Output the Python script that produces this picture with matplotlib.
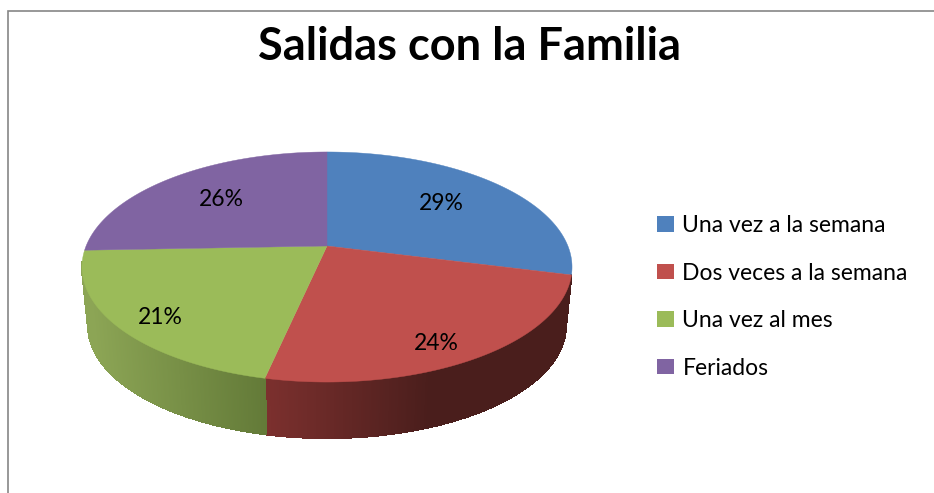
import numpy as np
import matplotlib
matplotlib.use("Agg")
import matplotlib.pyplot as plt
from matplotlib.patches import Polygon, Patch
from matplotlib.collections import PolyCollection, LineCollection

title = "Salidas con la Familia"
categories = ["Una vez a la semana", "Dos veces a la semana", "Una vez al mes", "Feriados"]
values = [29.0, 24.4, 21.0, 25.6]

colors = ["#4F81BD", "#C0504D", "#9BBB59", "#8064A2"]
side_left = ["#4F81BD", "#7C302E", "#8CA555", "#8064A2"]
side_right = ["#3A6496", "#4A1E1C", "#637A38", "#5E4A78"]
grad_span = [(560, 575), (265, 430), (90, 265), (83, 90)]

plt.rcParams["font.family"] = ["Lato", "DejaVu Sans"]
fig = plt.figure(figsize=(9.34, 4.93), dpi=100)
ax = fig.add_axes([0, 0, 1, 1])
ax.set_xlim(0, 934)
ax.set_ylim(493, 0)
ax.axis("off")

# perspective projection of the unit disc
PX, PY = 327.0, 246.0
SX, SY, C = 240.9, 111.2, 0.1826
DEPTH, SHRINK = 59.4, 0.975
VISIBLE = (np.radians(104.4), np.radians(262))


def rim(theta):
    X, Y = np.sin(theta), np.cos(theta)
    w = 1 + C * Y
    return SX * X / w, SY * Y / w


def top_xy(theta):
    x, y = rim(theta)
    return PX + x, PY - y


def bottom_xy(theta):
    x, y = rim(theta)
    return PX + SHRINK * x, PY - (SHRINK * y - DEPTH)


fractions = np.asarray(values) / np.sum(values)
edges = np.concatenate([[0], np.cumsum(fractions)]) * 2 * np.pi

# side wall, drawn first so the top covers it
for i in range(len(values)):
    a0v, a1v = max(edges[i], VISIBLE[0]), min(edges[i + 1], VISIBLE[1])
    if a1v - a0v < 1e-6:
        continue
    th = np.linspace(a0v, a1v, int(max(4, (a1v - a0v) * 220)))
    tx, ty = top_xy(th)
    bx, by = bottom_xy(th)
    polys, cols, segs = [], [], []
    c0 = np.array(matplotlib.colors.to_rgb(side_left[i]))
    c1 = np.array(matplotlib.colors.to_rgb(side_right[i]))
    lo, hi = grad_span[i]
    for j in range(len(th) - 1):
        polys.append([(tx[j], ty[j]), (tx[j + 1], ty[j + 1]), (bx[j + 1], by[j + 1]), (bx[j], by[j])])
        segs.append([(bx[j], by[j]), (bx[j + 1], by[j + 1])])
        t = np.clip((tx[j] - lo) / (hi - lo), 0, 1)
        cols.append(c0 + (c1 - c0) * t)
    ax.add_collection(PolyCollection(polys, facecolors=cols, edgecolors=cols, linewidths=0.8,
                                     antialiaseds=False))
    ax.add_collection(LineCollection(segs, colors=cols, linewidths=0.9, capstyle="round"))

# top surface
for i in range(len(values)):
    th = np.linspace(edges[i], edges[i + 1], 200)
    tx, ty = top_xy(th)
    pts = np.column_stack([np.r_[PX, tx], np.r_[PY, ty]])
    ax.add_patch(Polygon(pts, closed=True, facecolor=colors[i], edgecolor=colors[i], linewidth=0.3))

# percent labels
label_pos = [(441, 203), (436, 343), (160, 318), (221, 199)]
for f, (x, y) in zip(fractions, label_pos):
    ax.text(x, y, f"{f * 100:.0f}%", ha="center", va="center", fontsize=16.5, color="black")

# title
ax.text(469, 47, title, ha="center", va="center", fontsize=32.5, fontweight="bold", color="black")

# chart border (top and left only are in frame)
ax.plot([7.5, 7.5, 934], [493, 11, 11], color="#868686", lw=1.2, solid_joinstyle="miter")

# legend
fs = 16.5
px = fs * 100 / 72
handles = [Patch(facecolor=c, edgecolor=c, linewidth=0) for c in colors]
ax.legend(handles, categories, loc="upper left", bbox_to_anchor=(656.5 / 934, 1 - 215 / 493),
          frameon=False, fontsize=fs, borderpad=0, borderaxespad=0,
          handlelength=17 / px, handleheight=15 / px, handletextpad=9 / px,
          labelspacing=(49.5 - px) / px)

fig.savefig("out.png", dpi=100)
